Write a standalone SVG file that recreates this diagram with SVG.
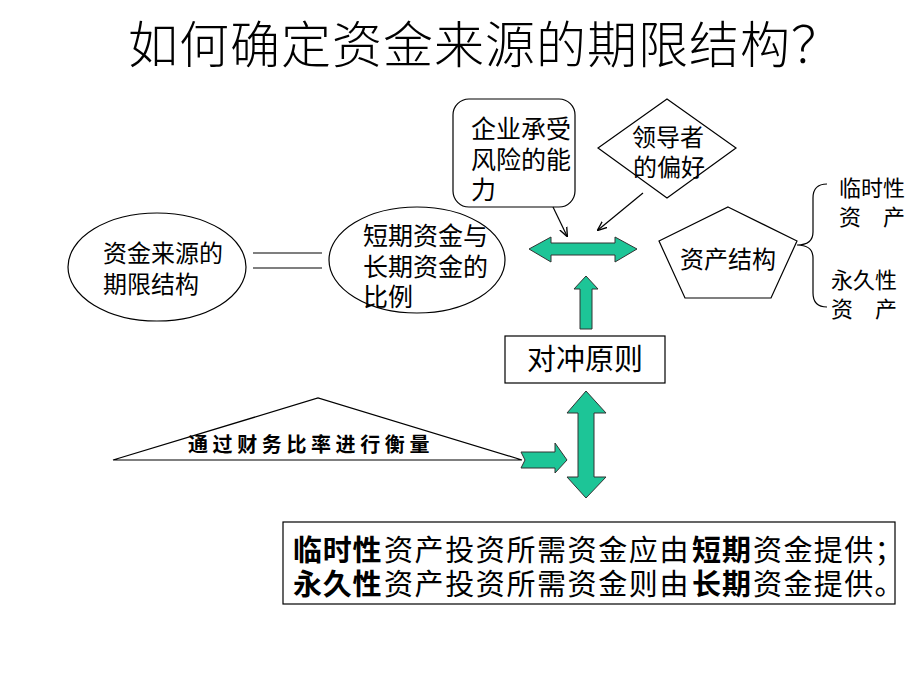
<svg xmlns="http://www.w3.org/2000/svg" width="920" height="690" viewBox="0 0 920 690">
<defs>
<style>
.c{font-family:"Noto Sans CJK SC",sans-serif;fill:#000}
.b{font-weight:bold}
.s{fill:#fff;stroke:#000;stroke-width:1.2}
.g{fill:#1dc597;stroke:#333;stroke-width:1}
.ln{stroke:#000;stroke-width:1.2;fill:none}
</style>
<marker id="ah" viewBox="0 0 10 10" refX="9" refY="5" markerWidth="8" markerHeight="8" orient="auto-start-reverse">
<path d="M0,1 L10,5 L0,9" fill="none" stroke="#000" stroke-width="1.4"/>
</marker>
</defs>
<rect width="920" height="690" fill="#fff"/>
<text class="c" x="128" y="63" font-size="50" letter-spacing="1" font-weight="300">如何确定资金来源的期限结构？</text>

<g id="node-source">
<ellipse class="s" cx="157" cy="267" rx="89" ry="54"/>
<text class="c" font-size="24" x="103" y="262">资金来源的</text>
<text class="c" font-size="24" x="103" y="293">期限结构</text>
</g>

<g id="node-ratio">
<ellipse class="s" cx="417" cy="260" rx="88" ry="53"/>
<text class="c" font-size="25" x="363" y="245">短期资金与</text>
<text class="c" font-size="25" x="363" y="276">长期资金的</text>
<text class="c" font-size="25" x="363" y="306">比例</text>
</g>

<g id="node-risk">
<rect class="s" x="453" y="99" width="122" height="108" rx="16"/>
<text class="c" font-size="25" x="471" y="138">企业承受</text>
<text class="c" font-size="25" x="471" y="169">风险的能</text>
<text class="c" font-size="25" x="471" y="199">力</text>
</g>

<g id="node-pref">
<polygon class="s" points="667,99 736,148 667,198 598,148"/>
<text class="c" font-size="24" x="668" y="146" text-anchor="middle">领导者</text>
<text class="c" font-size="24" x="669" y="176" text-anchor="middle">的偏好</text>
</g>

<g id="node-asset">
<polygon class="s" points="728,207 797,241 771,298 685,298 659,241"/>
<text class="c" font-size="24" x="728" y="268" text-anchor="middle">资产结构</text>
</g>

<g id="node-asset-types">
<path class="ln" d="M827,184 Q813,184 813,198 L813,232 Q813,245 797,245 Q813,245 813,258 L813,293 Q813,307 827,307"/>
<text class="c" font-size="22" x="839" y="196">临时性</text>
<text class="c" font-size="22" x="839" y="225">资</text>
<text class="c" font-size="22" x="883" y="225">产</text>
<text class="c" font-size="22" x="831" y="288">永久性</text>
<text class="c" font-size="22" x="831" y="317">资</text>
<text class="c" font-size="22" x="875" y="317">产</text>
</g>

<g id="node-hedge">
<rect class="s" x="505" y="336" width="160" height="47"/>
<text class="c" font-size="29" x="585" y="370" text-anchor="middle">对冲原则</text>
</g>

<g id="node-measure">
<polygon class="s" points="113,460 318,398 522,460"/>
<text class="c b" font-size="20" x="188" y="452" letter-spacing="4.6">通过财务比率进行衡量</text>
</g>

<g id="node-principle">
<rect class="s" x="283" y="522" width="612" height="82"/>
<text class="c b" font-size="29" x="293" y="561" letter-spacing="0.8">临时性</text>
<text class="c" font-size="29" x="384" y="561" letter-spacing="1.6">资产投资所需资金应由</text>
<text class="c b" font-size="29" x="692" y="561" letter-spacing="1">短期</text>
<text class="c" font-size="29" x="753" y="561" letter-spacing="1.4">资金提供；</text>
<text class="c b" font-size="29" x="293" y="595" letter-spacing="0.8">永久性</text>
<text class="c" font-size="29" x="384" y="595" letter-spacing="1.6">资产投资所需资金则由</text>
<text class="c b" font-size="29" x="692" y="595" letter-spacing="1">长期</text>
<text class="c" font-size="29" x="753" y="595" letter-spacing="1.4">资金提供。</text>
</g>

<g id="connectors">
<line class="ln" x1="253" y1="253" x2="322" y2="253"/>
<line class="ln" x1="253" y1="268" x2="322" y2="268"/>
<line class="ln" x1="553" y1="207" x2="567" y2="236" marker-end="url(#ah)"/>
<line class="ln" x1="643" y1="193" x2="598" y2="230" marker-end="url(#ah)"/>
<polygon class="g" points="529,249 551,237 551,243 615,243 615,237 637,249 615,262 615,255 551,255 551,262"/>
<polygon class="g" points="586,276 598,289 592,289 592,329 580,329 580,289 574,289"/>
<polygon class="g" points="586,391 606,413 594,413 594,477 606,477 586,498 567,477 578,477 578,413 567,413"/>
<polygon class="g" points="521,452 555,452 555,443 567,460 555,473 555,468 521,468 525,460"/>
</g>
</svg>
